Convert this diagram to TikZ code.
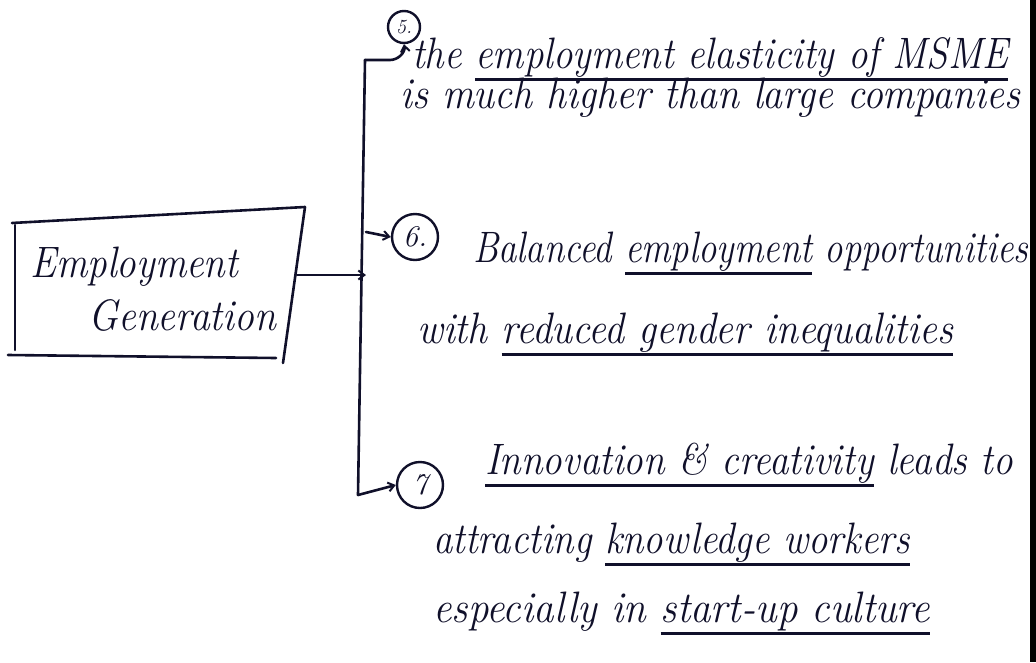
\documentclass[tikz,border=0pt]{standalone}
\usepackage{graphicx}
\usetikzlibrary{arrows.meta}
\definecolor{ink}{HTML}{10102A}
% handwritten-style line of text stretched to a given width
\newcommand{\hwline}[2]{\resizebox{#1}{\height}{\itshape #2}}
% words underlined a little below the baseline, crossing the descenders
\newcommand{\ulw}[1]{\setbox0\hbox{#1}\rlap{\rule[-0.29em]{\wd0}{0.055em}}\box0\relax}
\begin{document}
\begin{tikzpicture}[x=1pt,y=-1pt,
  pen/.style={draw=ink,line width=2.6pt,line cap=round,line join=round},
  arr/.style={pen,-{Straight Barb[length=6pt,width=9pt,line width=2pt]}},
  txt/.style={text=ink,inner sep=0pt,anchor=base west,font=\fontsize{44}{48}\selectfont},
  num/.style={circle,draw=ink,line width=2.4pt,text=ink,inner sep=0pt,font=\fontsize{30}{32}\selectfont\itshape}]
\useasboundingbox (0,0) rectangle (1036,662);
\fill[white] (0,0) rectangle (1036,662);
\fill[black] (1030,0) rectangle (1036,662);

% main box
\draw[pen] (12,223) -- (305,207);
\draw[pen] (305,207) -- (283,363);
\draw[pen] (8,355) -- (276,358);
\draw[pen] (15,225) -- (15,350);
\node[txt] (head1) at (30,277) {\hwline{208pt}{Employment}};
\node[txt] (head2) at (88,330) {\hwline{188pt}{Generation}};

% branch bus
\coordinate (boxout) at (297,275);
\coordinate (bm) at (366,275);
\coordinate (bt) at (365,60);
\coordinate (bb) at (358,495);
\draw[arr] (boxout) -- (bm);
\draw[pen] (bt) -- (bb);

% numbered points
\node[num,minimum size=32pt,font=\fontsize{20}{22}\selectfont\itshape] (n5) at (404,27) {5.};
\node[num,minimum size=46pt] (n6) at (415,237) {6.};
\node[num,minimum size=46pt] (n7) at (420,485) {7};

\draw[arr] (bt) -- (390,60) to[out=0,in=-80] (n5.south);
\draw[arr] (366,232) -- (n6.west);
\draw[arr] (bb) -- (n7.west);

% point 5
\node[txt] (t1) at (412,68) {\hwline{596pt}{the \ulw{employment elasticity of MSME}}};
\node[txt] (t2) at (400,108) {\hwline{620pt}{is much higher than large companies}};

% point 6
\node[txt] (t3) at (473,262) {\hwline{555pt}{Balanced \ulw{employment} opportunities}};
\node[txt] (t4) at (417,343) {\hwline{536pt}{with \ulw{reduced gender inequalities}}};

% point 7
\node[txt] (t5) at (485,474) {\hwline{528pt}{\ulw{Innovation \& creativity} leads to}};
\node[txt] (t6) at (433,553) {\hwline{477pt}{attracting \ulw{knowledge workers}}};
\node[txt] (t7) at (433,622) {\hwline{497pt}{especially in \ulw{start-up culture}}};
\end{tikzpicture}
\end{document}
